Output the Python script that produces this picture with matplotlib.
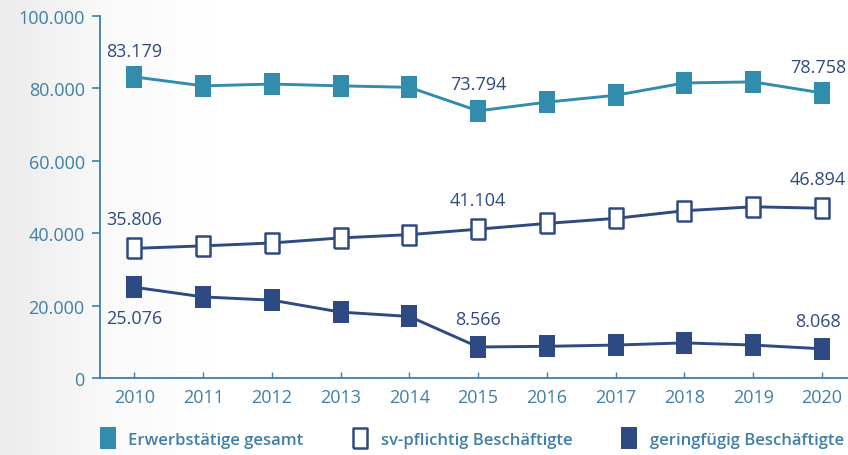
import numpy as np
import matplotlib
matplotlib.use("Agg")
import matplotlib.pyplot as plt
from matplotlib.lines import Line2D
from matplotlib.colors import LinearSegmentedColormap

years = [2010, 2011, 2012, 2013, 2014, 2015, 2016, 2017, 2018, 2019, 2020]
erwerbstaetige = [83179, 80700, 81200, 80700, 80300, 73794, 76200, 78100, 81500, 81800, 78758]
sv_pflichtig = [35806, 36500, 37300, 38700, 39600, 41104, 42700, 44100, 46200, 47300, 46894]
geringfuegig = [25076, 22400, 21500, 18200, 17000, 8566, 8750, 9100, 9700, 9100, 8068]
series_names = ["Erwerbstätige gesamt", "sv-pflichtig Beschäftigte", "geringfügig Beschäftigte"]
yticks = [0, 20000, 40000, 60000, 80000, 100000]

TEAL, NAVY, AXIS = "#318CAE", "#2E4A82", "#3F7FA8"
plt.rcParams.update({"font.family": ["Open Sans", "DejaVu Sans"], "font.size": 12})

# tall rectangle marker, like the original
RECT = [(-0.72, -1), (0.72, -1), (0.72, 1), (-0.72, 1), (-0.72, -1)]


def de(v):
    return f"{v:,}".replace(",", ".")


fig = plt.figure(figsize=(8.48, 4.56), dpi=100)

# soft grey fade on the left edge
bg = fig.add_axes([0, 0, 1, 1], zorder=-1)
grad = np.linspace(0, 1, 512)[None, :]
bg.imshow(grad, aspect="auto", extent=(0, 1, 0, 1),
          cmap=LinearSegmentedColormap.from_list(
              "fade", [(0, "#ECECEC"), (0.13, "#FAFAFA"), (0.25, "#FFFFFF"), (1, "#FFFFFF")]))
bg.axis("off")

ax = fig.add_axes([100 / 848, 1 - 379 / 456, 1 - 100 / 848, (379 - 17) / 456])
ax.patch.set_alpha(0)

ax.plot(years, erwerbstaetige, color=TEAL, lw=2.1, marker=RECT, ms=16,
        mfc=TEAL, mec=TEAL, mew=0, zorder=3)
ax.plot(years, sv_pflichtig, color=NAVY, lw=2.1, marker=RECT, ms=15,
        mfc="white", mec=NAVY, mew=1.8, zorder=3)
ax.plot(years, geringfuegig, color=NAVY, lw=2.1, marker=RECT, ms=16,
        mfc=NAVY, mec=NAVY, mew=0, zorder=3)

# value labels at 2010, 2015, 2020 (last ones nudged left to stay inside the edge)
for i in (0, 5, 10):
    dx = -3 if i == 10 else 0
    ax.annotate(de(erwerbstaetige[i]), (years[i], erwerbstaetige[i]), xytext=(dx, 19),
                textcoords="offset points", ha="center", va="center", color=NAVY, fontsize=13)
    ax.annotate(de(sv_pflichtig[i]), (years[i], sv_pflichtig[i]), xytext=(dx, 21),
                textcoords="offset points", ha="center", va="center", color=NAVY, fontsize=13)
    dy = -22 if i == 0 else 20
    ax.annotate(de(geringfuegig[i]), (years[i], geringfuegig[i]), xytext=(dx, dy),
                textcoords="offset points", ha="center", va="center", color=NAVY, fontsize=13)

ax.set_xlim(2009.5, 2020.38)
ax.set_ylim(0, 100000)
ax.set_xticks(years)
ax.set_yticks(yticks)
ax.set_yticklabels([de(v) for v in yticks])
for s in ("top", "right"):
    ax.spines[s].set_visible(False)
for s in ("left", "bottom"):
    ax.spines[s].set_color(AXIS)
    ax.spines[s].set_linewidth(1.3)
ax.tick_params(axis="y", direction="out", length=6, width=1.2, color=AXIS,
               labelcolor=AXIS, labelsize=13, pad=5)
ax.tick_params(axis="x", direction="in", length=4, width=1.0, color=AXIS,
               labelcolor=AXIS, labelsize=13, pad=7)

handles = [
    Line2D([], [], ls="none", marker=RECT, ms=16, mfc=TEAL, mec=TEAL, mew=0),
    Line2D([], [], ls="none", marker=RECT, ms=15, mfc="white", mec=NAVY, mew=1.8),
    Line2D([], [], ls="none", marker=RECT, ms=16, mfc=NAVY, mec=NAVY, mew=0),
]
leg = fig.legend(handles, series_names, loc="center left", bbox_to_anchor=(0.117, 1 - 441 / 456),
                 ncol=3, frameon=False, handlelength=1.0, handletextpad=0.75,
                 columnspacing=2.9, borderaxespad=0, borderpad=0,
                 prop={"size": 12, "weight": "semibold"})
for t in leg.get_texts():
    t.set_color(AXIS)

fig.savefig("out.png", dpi=100)
